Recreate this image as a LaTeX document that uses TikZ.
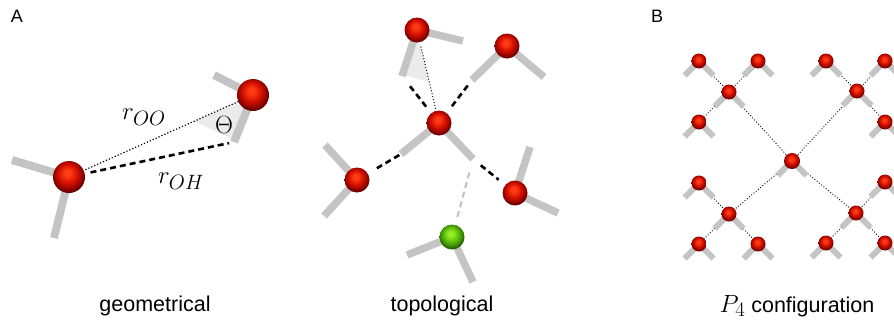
\documentclass[tikz,border=0pt]{standalone}
\usepackage[no-math]{fontspec}
\newfontfamily\capfont{Liberation Sans}
\usetikzlibrary{positioning, calc}
\definecolor{armgray}{HTML}{C4C4C4}
\definecolor{wedge}{HTML}{EBEBEB}
\definecolor{rhi}{HTML}{FF3A14}
\definecolor{rmid}{HTML}{D81200}
\definecolor{rlo}{HTML}{A00600}
\definecolor{rdk}{HTML}{6A0000}
\definecolor{ghi}{HTML}{94EC22}
\definecolor{gmid}{HTML}{62C010}
\definecolor{glo}{HTML}{3E9006}
\definecolor{gdk}{HTML}{226000}
\pgfdeclareradialshading{oxred}{\pgfpoint{-3bp}{7bp}}{color(0bp)=(rhi); color(5bp)=(rhi); color(14bp)=(rmid); color(21bp)=(rlo); color(26bp)=(rdk); color(50bp)=(rdk)}
\pgfdeclareradialshading{oxgreen}{\pgfpoint{-3bp}{7bp}}{color(0bp)=(ghi); color(5bp)=(ghi); color(14bp)=(gmid); color(21bp)=(glo); color(26bp)=(gdk); color(50bp)=(gdk)}
\newcommand\mathbig{\fontsize{24.88}{28}\selectfont}

\begin{document}
\begin{tikzpicture}[x=1pt, y=-1pt,
	arm/.style={armgray, line width=#1}, arm/.default=7.5,
	hbond/.style={black, line width=2.6, dash pattern=on 6pt off 4pt},
	oo/.style={black, dotted, line width=#1}, oo/.default=1.2,
	ball/.style={circle, inner sep=0, minimum size=#1, shade, shading=oxred},
	lbl/.style={font=\mathbig},
	captxt/.style={font=\capfont\fontsize{21.5}{25}\selectfont},
	pantxt/.style={font=\capfont\fontsize{18}{20}\selectfont}]
\useasboundingbox (0,0) rectangle (894,322);
\foreach \n/\x/\y in {o1/69/177, h1a/12/160, h1b/54/238, o2/253/95, h2a/214/75, h2b/234/142,
	oc/439/123, hc1/401/154, hc2/473/159, ot/417/30, ht1/463/41, ht2/402/76,
	otr/507/46, htr1/472/80, htr2/544/77, ol/357/180, hl1/325/145, hl2/324/216,
	ob/515/193, hb1/530/147, hb2/558/213, og/452/237, hg1/407/255, hg2/473/282}
	\coordinate (\n) at (\x,\y);
\foreach \n/\x/\y in {c/792/161, s1/729/92, s2/857/91, s3/729/214, s4/856/213,
	s1a/699/61, s1b/758/61, s1c/699/122, s2a/826/61, s2b/885/61, s2c/885/122,
	s3a/699/183, s3b/699/244, s3c/758/244, s4a/885/182, s4b/826/243, s4c/885/243}
	\coordinate (\n) at (\x,\y);

\fill[wedge] (o2) -- ($(o2)!0.32!(o1)$) -- ($(o2)!0.96!(h2b)$) -- cycle;
\fill[wedge] (ot) -- ($(ot)!0.97!(ht2)$) -- ($(ot)!0.56!(oc)$) -- cycle;
\draw[oo, shorten <=18pt, shorten >=14pt] (o1) -- (o2);
\draw[hbond, shorten <=22pt, shorten >=5pt] (o1) -- (h2b);
\draw[oo=1, shorten <=17pt, shorten >=13pt] (ot) -- (oc);
\draw[hbond, shorten <=13pt, shorten >=19pt] (ht2) -- (oc);
\draw[hbond, shorten <=7pt, shorten >=19pt] (htr1) -- (oc);
\draw[hbond, shorten <=2pt, shorten >=22pt] (hc1) -- (ol);
\draw[hbond, shorten <=10pt, shorten >=21pt] (hc2) -- (ob);
\draw[hbond, armgray, line width=2.2, shorten <=14pt, shorten >=18pt] (hc2) -- (og);
\foreach \a/\b in {c/s1, c/s2, c/s3, c/s4, s1/s1a, s1/s1b, s1/s1c, s2/s2a, s2/s2b, s2/s2c,
	s3/s3a, s3/s3b, s3/s3c, s4/s4a, s4/s4b, s4/s4c}
	\draw[oo=0.9] (\a) -- (\b);

\foreach \o/\h in {o1/h1a, o1/h1b, o2/h2a, o2/h2b}
	\draw[arm=8] (\o) -- (\h);
\foreach \o/\h in {oc/hc1, oc/hc2, ot/ht1, ot/ht2, otr/htr1, otr/htr2, ol/hl1, ol/hl2,
	ob/hb1, ob/hb2, og/hg1, og/hg2}
	\draw[arm] (\o) -- (\h);
\foreach \n in {c, s1, s2, s3, s4, s1a, s1b, s1c, s2a, s2b, s2c, s3a, s3b, s3c, s4a, s4b, s4c}
	\draw[arm=6] (\n) -- +(-14.5,14.5) (\n) -- +(14.5,14.5);

\foreach \n in {o1, o2}
	\node[ball=32] (b\n) at (\n) {};
\foreach \n in {oc, ot, otr, ol, ob}
	\node[ball=25] (b\n) at (\n) {};
\node[ball=25, shading=oxgreen] (bog) at (og) {};
\node[ball=16] (bc) at (c) {};
\foreach \n in {s1, s2, s3, s4, s1a, s1b, s1c, s2a, s2b, s2c, s3a, s3b, s3c, s4a, s4b, s4c}
	\node[ball=15] (b\n) at (\n) {};

\node[lbl] (roo) at (144,117) {$r_{OO}$};
\node[lbl] (roh) at (181,181) {$r_{OH}$};
\node[lbl] (theta) at (224,125) {$\Theta$};
\node[pantxt] (panA) at (17,16) {A};
\node[pantxt] (panB) at (657,16) {B};
\node[captxt] (geo) at (155,306) {geometrical};
\node[captxt] (topo) at (442,306) {topological};
\node[captxt] (conf) at (797,306) {{\mathbig$P_4$} configuration};
\end{tikzpicture}
\end{document}
